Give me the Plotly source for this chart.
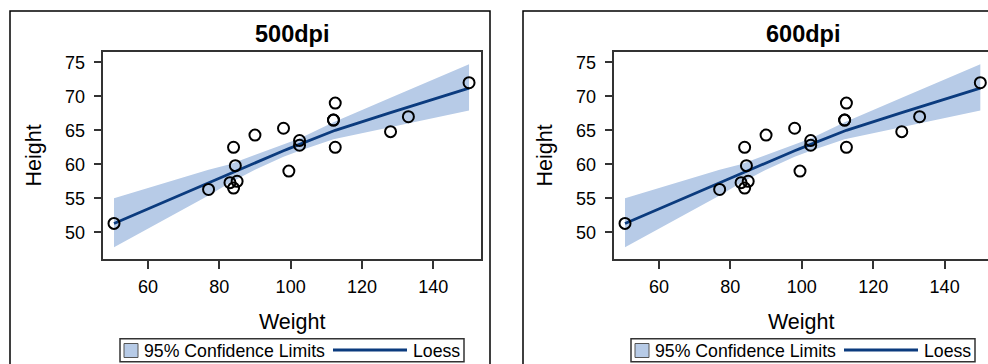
import plotly.graph_objects as go

# ---------------- data ----------------
weight = [112.5, 84.0, 98.0, 102.5, 102.5, 83.0, 84.5, 112.5, 84.0, 99.5,
          50.5, 90.0, 77.0, 112.0, 150.0, 128.0, 133.0, 85.0, 112.0]
height = [69.0, 56.5, 65.3, 62.8, 63.5, 57.3, 59.8, 62.5, 62.5, 59.0,
          51.3, 64.3, 56.3, 66.5, 72.0, 64.8, 67.0, 57.5, 66.5]

fit_x = [50.5, 77.0, 83.0, 84.0, 84.5, 85.0, 90.0, 98.0, 99.5, 102.5,
         112.0, 112.5, 128.0, 133.0, 150.0]
fit_y = [51.3, 57.3, 58.7, 58.9, 59.0, 59.1, 60.3, 62.0, 62.3, 62.9,
         64.9, 65.0, 67.6, 68.4, 71.2]
upper = [55.0, 59.2, 60.0, 60.2, 60.3, 60.4, 61.4, 62.9, 63.2, 63.8,
         66.2, 66.3, 69.8, 70.9, 74.7]
lower = [47.8, 55.4, 57.3, 57.6, 57.7, 57.8, 59.2, 61.1, 61.4, 62.0,
         63.7, 63.8, 65.5, 66.0, 67.9]

panel_titles = ["500dpi", "600dpi"]
x_title = "Weight"
y_title = "Height"
band_name = "95% Confidence Limits"
fit_name = "Loess"
x_ticks = [60, 80, 100, 120, 140]
y_ticks = [50, 55, 60, 65, 70, 75]

# ---------------- style ----------------
W, H = 988, 364
FONT = "Liberation Sans, Arial, sans-serif"
BAND = "#b7cbe7"
LINE = "#0b3b7e"
FRAME = "#333333"


def px(x):
    return x / W


def py(y):
    return 1 - y / H


fig = go.Figure()

shift = 511  # horizontal offset of second panel in pixels
panels = [
    dict(xa="x", ya="y", xd=[px(103.3), px(481)], xr=[47.5, 153.35], mirror=True),
    dict(xa="x2", ya="y2", xd=[px(103.3 + shift), 1.0],
         xr=[47.5, 47.5 + (W - 103.3 - shift) / 3.571], mirror=False),
]

for i, p in enumerate(panels):
    fig.add_trace(go.Scatter(
        x=fit_x + fit_x[::-1], y=upper + lower[::-1],
        fill="toself", fillcolor=BAND, line=dict(width=0),
        mode="lines", name=band_name, showlegend=False,
        hoverinfo="skip", xaxis=p["xa"], yaxis=p["ya"]))
    fig.add_trace(go.Scatter(
        x=fit_x, y=fit_y, mode="lines", name=fit_name,
        line=dict(color=LINE, width=2.8), showlegend=False,
        xaxis=p["xa"], yaxis=p["ya"]))
    fig.add_trace(go.Scatter(
        x=weight, y=height, mode="markers", name="Height",
        marker=dict(symbol="circle-open", size=11, color="black",
                    line=dict(width=2, color="black")),
        showlegend=False, xaxis=p["xa"], yaxis=p["ya"]))

axis_common = dict(
    showgrid=False, zeroline=False, showline=True, linecolor=FRAME,
    linewidth=1.5, ticks="outside", ticklen=8, tickwidth=1.5,
    tickcolor=FRAME, tickfont=dict(family=FONT, size=18, color="black"),
    automargin=False,
)

ydom = [py(259), py(51.7)]
for i, p in enumerate(panels):
    sfx = "" if i == 0 else "2"
    fig.update_layout(**{
        "xaxis" + sfx: dict(
            axis_common, domain=p["xd"], range=p["xr"], tickvals=x_ticks,
            anchor="y" + sfx, mirror=True, ticklabelstandoff=3,
            title=dict(text=x_title, font=dict(family=FONT, size=21.5, color="black"),
                       standoff=18)),
        "yaxis" + sfx: dict(
            axis_common, domain=ydom, range=[46.07, 76.56], tickvals=y_ticks,
            anchor="x" + sfx, mirror=p["mirror"], ticklabelstandoff=5,
            title=dict(text=y_title, font=dict(family=FONT, size=21.5, color="black"),
                       standoff=17)),
    })

shapes = []
annotations = []
for i in range(2):
    o = i * shift
    # panel outer border
    if i == 0:
        shapes.append(dict(type="rect", xref="paper", yref="paper",
                           x0=px(10), x1=px(490), y0=py(380), y1=py(11),
                           line=dict(color="black", width=1.5)))
    else:
        shapes.append(dict(type="rect", xref="paper", yref="paper",
                           x0=px(523), x1=px(1000), y0=py(380), y1=py(11),
                           line=dict(color="black", width=1.5)))
    # panel title
    annotations.append(dict(text="<b>%s</b>" % panel_titles[i], xref="paper", yref="paper",
                            x=px(292 + o), y=py(34), xanchor="center", yanchor="middle",
                            showarrow=False, font=dict(family=FONT, size=23.5, color="black")))
    # legend box
    shapes.append(dict(type="rect", xref="paper", yref="paper",
                       x0=px(120 + o), x1=px(464 + o), y0=py(361.7), y1=py(338.7),
                       line=dict(color=FRAME, width=1.5), fillcolor="white"))
    shapes.append(dict(type="rect", xref="paper", yref="paper",
                       x0=px(124 + o), x1=px(138 + o), y0=py(357.5), y1=py(343.5),
                       line=dict(color="#555555", width=1), fillcolor=BAND))
    shapes.append(dict(type="line", xref="paper", yref="paper",
                       x0=px(333 + o), x1=px(407 + o), y0=py(350), y1=py(350),
                       line=dict(color=LINE, width=3)))
    annotations.append(dict(text=band_name, xref="paper", yref="paper",
                            x=px(142 + o), y=py(350.5), xanchor="left", yanchor="middle",
                            showarrow=False, font=dict(family=FONT, size=17.7, color="black")))
    annotations.append(dict(text=fit_name, xref="paper", yref="paper",
                            x=px(411 + o), y=py(350.5), xanchor="left", yanchor="middle",
                            showarrow=False, font=dict(family=FONT, size=17.7, color="black")))

fig.update_layout(
    width=W, height=H, margin=dict(l=0, r=0, t=0, b=0),
    paper_bgcolor="white", plot_bgcolor="white",
    showlegend=False, shapes=shapes, annotations=annotations,
    font=dict(family=FONT, color="black"),
)

fig.write_html("out.html")
